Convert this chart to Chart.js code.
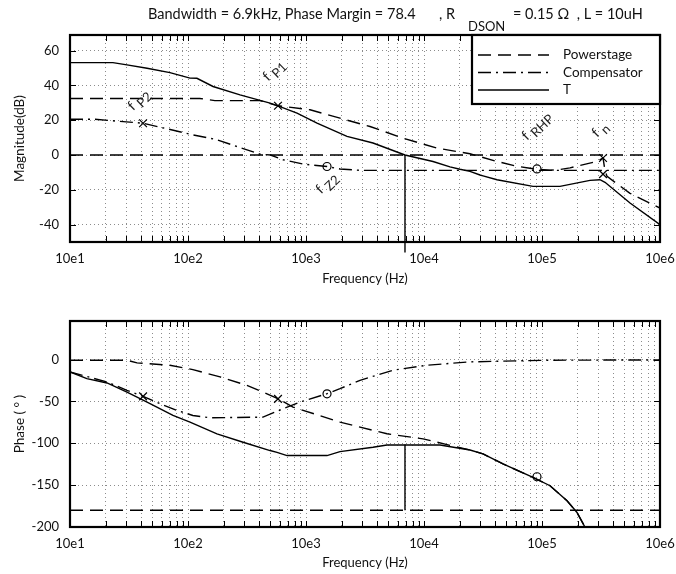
<!DOCTYPE html>
<html lang="en">
<head>
<meta charset="UTF-8" />
<title>Bode plot</title>
<script src="https://cdn.jsdelivr.net/npm/chart.js"></script>
<style>
  html, body { margin: 0; padding: 0; background: #fff; }
  body { width: 676px; height: 574px; position: relative; overflow: hidden; }
  canvas { position: absolute; left: 0; }
  #magChart { top: 0; }
  #phChart { top: 290px; }
</style>
</head>
<body>
<canvas id="magChart" width="676" height="290"></canvas>
<canvas id="phChart" width="676" height="284"></canvas>
<script>
// ---- data ----
const bwHz = 6900;
const phaseMargin = 78.4;

// magnitude (dB)
const psMagHz = [10, 126, 169, 408, 579, 1082, 1941, 3487, 6633, 12880, 24530, 41570, 61370, 79070, 90700, 117000, 134000, 172600, 292000, 329000, 342000, 356000, 557000, 1e6];
const psMagDb = [32.5, 32.5, 31.3, 31.3, 28.3, 26, 21.2, 16.4, 9.7, 4, 0.7, -3.7, -6.5, -7.6, -8.2, -8.7, -8.6, -7.4, -3.7, -1.7, -9, -12.3, -22, -30.5];

const cMagHz = [10, 16.3, 21.8, 41.6, 58, 110, 176, 260, 408, 500, 639, 943, 1507, 1941, 2868, 1e6];
const cMagDb = [20.6, 20.6, 19.8, 18.3, 16, 11.6, 8.8, 4.9, 0.5, 0, -2.7, -5.2, -6.6, -8, -8.8, -8.8];

const tMagHz = [10, 23.1, 30.4, 45, 70.3, 104, 119, 163, 276, 496, 579, 839, 1240, 2225, 3697, 6900, 11920, 16600, 20180, 24530, 29840, 31640, 41570, 83900, 142000, 255000, 310000, 342000, 557000, 1e6];
const tMagDb = [53.1, 53.1, 51.8, 49.9, 47.4, 44.2, 44.1, 39.4, 34.6, 29.8, 28.3, 24.1, 18.4, 10.7, 6.9, 0, -3.7, -6.8, -8.2, -9.4, -11.5, -12, -14.2, -18, -18, -14.6, -14.2, -15.7, -27.6, -40];

// phase (deg)
const psPhHz = [10, 30.4, 37, 70.3, 110, 187, 316, 432, 579, 776, 1941, 4856, 9817, 15670, 24530, 31640, 46700, 83900, 117000, 163000, 198000, 231000];
const psPhDeg = [-0.8, -0.8, -4, -6.8, -12, -20.8, -30.8, -38.8, -46.8, -56.8, -74.8, -88.7, -94.7, -101.6, -108, -112.7, -124.7, -140.7, -150.7, -168.7, -182.7, -200];

const cPhHz = [10, 20.6, 30.4, 41.6, 58, 80.7, 110, 154, 432, 639, 889, 1507, 1941, 2868, 5460, 10600, 24530, 117000, 1e6];
const cPhDeg = [-14.8, -26.8, -36.8, -44, -52.8, -60.8, -66.8, -69.6, -68.8, -58.8, -50.8, -40.8, -34.8, -24.8, -12.8, -6.8, -2.8, -0.8, -0.5];

const tPhHz = [10, 13.9, 20.6, 30.4, 45, 74.6, 104, 176, 293, 496, 568, 691, 1507, 1941, 3697, 4856, 13670, 24530, 31640, 46700, 83900, 117000, 163000, 198000, 231000];
const tPhDeg = [-14.8, -22.8, -28, -38.8, -50.8, -66.8, -74.8, -88.7, -98.8, -108.7, -110.8, -114.7, -114.7, -110, -104.8, -102, -102, -108, -112.7, -124.7, -140.7, -150.7, -168.7, -182.7, -200];

// poles (x) and zeros (o)
const magXHz = [41.6, 579, 329000, 329000];
const magXDb = [18.3, 28.3, -1.7, -11];
const magOHz = [1507, 90700];
const magODb = [-6.6, -8];
const phXHz = [41.6, 579];
const phXDeg = [-44, -47];
const phOHz = [1507, 90700];
const phODeg = [-41, -140];

const magTicks = [-40, -20, 0, 20, 40, 60];
const phTicks = [-200, -150, -100, -50, 0];

// ---- helpers ----
const pts = (xs, ys) => xs.map((v, i) => ({ x: v, y: ys[i] }));
const FONT = 'Lato, "Open Sans", sans-serif';
const DASH = [13, 7];
const DASHDOT = [13, 5, 2, 5];

function logTicks(scale) {
  const t = [];
  for (let e = 1; e < 6; e++) for (let m = 1; m < 10; m++) t.push({ value: m * Math.pow(10, e) });
  t.push({ value: 1e6 });
  scale.ticks = t;
}
function decadeLabel(v) {
  const e = Math.log10(v);
  return Math.abs(e - Math.round(e)) < 1e-6 ? '10e' + Math.round(e) : '';
}

function line(label, data, dash, extra) {
  return Object.assign({
    label, data, borderColor: '#000', borderWidth: 1.4, borderDash: dash,
    pointRadius: 0, fill: false, tension: 0
  }, extra || {});
}
function marks(data, style) {
  return {
    data, showLine: false, borderColor: '#000', backgroundColor: 'rgba(0,0,0,0)',
    borderWidth: 1.2, pointStyle: style, pointRadius: style === 'circle' ? 4 : 5.5
  };
}

function axes(yMin, yMax, yTicks, yTitle, xHeight) {
  return {
    x: {
      type: 'logarithmic', min: 10, max: 1e6,
      afterBuildTicks: logTicks,
      grid: { color: '#8c8c8c', lineWidth: 1, drawTicks: false },
      border: { display: false, dash: [1, 3] },
      ticks: { autoSkip: false, maxRotation: 0, padding: 9, color: '#111', font: { family: FONT, size: 13 }, callback: decadeLabel },
      title: { display: true, text: 'Frequency (Hz)', color: '#111', font: { family: FONT, size: 13 }, padding: { top: 0, bottom: 3 } },
      afterFit: s => { s.height = xHeight; s.paddingLeft = 0; s.paddingRight = 0; }
    },
    y: {
      min: yMin, max: yMax,
      afterBuildTicks: s => { s.ticks = yTicks.map(v => ({ value: v })); },
      grid: { color: '#8c8c8c', lineWidth: 1, drawTicks: false },
      border: { display: false, dash: [1, 3] },
      ticks: { padding: 11, color: '#111', font: { family: FONT, size: 13 } },
      title: { display: true, text: yTitle, color: '#111', font: { family: FONT, size: 13.5 }, padding: { top: 12, bottom: 0 } },
      afterFit: s => { s.width = 70; s.paddingTop = 0; s.paddingBottom = 0; }
    }
  };
}

const bodePlugin = {
  id: 'bode',
  afterDraw(chart, args, opts) {
    const { ctx, chartArea: a, scales: { x, y } } = chart;
    ctx.save();
    // inward tick marks
    ctx.strokeStyle = '#000';
    ctx.lineWidth = 1;
    ctx.beginPath();
    x.ticks.forEach(t => {
      const px = Math.round(x.getPixelForValue(t.value)) + 0.5;
      ctx.moveTo(px, a.top); ctx.lineTo(px, a.top + 6);
      ctx.moveTo(px, a.bottom); ctx.lineTo(px, a.bottom - 6);
    });
    y.ticks.forEach(t => {
      const py = Math.round(y.getPixelForValue(t.value)) + 0.5;
      ctx.moveTo(a.left, py); ctx.lineTo(a.left + 6, py);
      ctx.moveTo(a.right, py); ctx.lineTo(a.right - 6, py);
    });
    ctx.stroke();
    ctx.lineWidth = 2.2;
    ctx.strokeRect(a.left, a.top, a.right - a.left, a.bottom - a.top);

    // f_xx labels
    ctx.fillStyle = '#222';
    ctx.textBaseline = 'alphabetic';
    ctx.textAlign = 'left';
    (opts.notes || []).forEach(n => {
      ctx.save();
      ctx.translate(x.getPixelForValue(n.hz) + n.dx, y.getPixelForValue(n.val) + n.dy);
      ctx.rotate(-44 * Math.PI / 180);
      ctx.font = '14px ' + FONT;
      ctx.fillText('f', 0, 0);
      const w = ctx.measureText('f ').width;
      ctx.font = '13px ' + FONT;
      ctx.fillText(n.sub, w, 4);
      ctx.restore();
    });

    // legend box
    if (opts.legend) {
      const L = opts.legend;
      ctx.fillStyle = '#fff';
      ctx.fillRect(L.left, a.top, a.right - L.left, L.bottom - a.top);
      ctx.lineWidth = 2.2;
      ctx.strokeRect(L.left, a.top, a.right - L.left, L.bottom - a.top);
      ctx.font = '13.5px ' + FONT;
      ctx.fillStyle = '#111';
      ctx.textBaseline = 'middle';
      chart.data.datasets.filter(d => d.inLegend).forEach((d, i) => {
        const yy = L.firstRow + i * L.rowGap;
        ctx.save();
        ctx.lineWidth = 1.4;
        ctx.setLineDash(d.borderDash || []);
        ctx.beginPath();
        ctx.moveTo(L.left + 6, yy); ctx.lineTo(L.left + 77, yy);
        ctx.stroke();
        ctx.restore();
        ctx.fillText(d.label, L.left + 91, yy);
      });
    }

    // title with subscript
    if (opts.title) {
      ctx.fillStyle = '#111';
      ctx.textBaseline = 'alphabetic';
      ctx.font = '14.5px ' + FONT;
      ctx.fillText('Bandwidth = ' + (bwHz / 1000) + 'kHz, Phase Margin = ' + phaseMargin, 148, 19);
      ctx.fillText(', R', 439, 19);
      ctx.fillText('= 0.15 \u03A9  , L = 10uH', 513, 19);
      ctx.font = '13px ' + FONT;
      ctx.fillText('DSON', 468, 31);
    }
    ctx.restore();
  }
};

// ---- magnitude chart ----
new Chart(document.getElementById('magChart'), {
  type: 'line',
  data: {
    datasets: [
      line('zero', [{ x: 10, y: 0 }, { x: 1e6, y: 0 }], DASH),
      line('bw', [{ x: bwHz, y: 0 }, { x: bwHz, y: -56 }], [], { clip: { left: 0, top: 0, right: 0, bottom: false } }),
      line('Powerstage', pts(psMagHz, psMagDb), DASH, { inLegend: true }),
      line('Compensator', pts(cMagHz, cMagDb), DASHDOT, { inLegend: true }),
      line('T', pts(tMagHz, tMagDb), [], { inLegend: true }),
      marks(pts(magXHz, magXDb), 'crossRot'),
      marks(pts(magOHz, magODb), 'circle')
    ]
  },
  options: {
    responsive: false, animation: false,
    layout: { padding: { left: 0, right: 16, top: 35, bottom: 0 } },
    scales: axes(-50, 69, magTicks, 'Magnitude(dB)', 48),
    plugins: {
      legend: { display: false }, tooltip: { enabled: false },
      bode: {
        title: true,
        legend: { left: 472, bottom: 104, firstRow: 55, rowGap: 17.5 },
        notes: [
          { sub: 'P2', hz: magXHz[0], val: magXDb[0], dx: -10, dy: -12 },
          { sub: 'P1', hz: magXHz[1], val: magXDb[1], dx: -10, dy: -24 },
          { sub: 'Z2', hz: magOHz[0], val: magODb[0], dx: -6, dy: 28 },
          { sub: 'RHP', hz: magOHz[1], val: magODb[1], dx: -10, dy: -28 },
          { sub: 'n', hz: magXHz[2], val: magXDb[2], dx: -6, dy: -20 }
        ]
      }
    }
  },
  plugins: [bodePlugin]
});

// ---- phase chart ----
new Chart(document.getElementById('phChart'), {
  type: 'line',
  data: {
    datasets: [
      line('-180', [{ x: 10, y: -180 }, { x: 1e6, y: -180 }], DASH),
      line('pm', [{ x: bwHz, y: -180 + phaseMargin }, { x: bwHz, y: -180 }], []),
      line('Powerstage', pts(psPhHz, psPhDeg), DASH),
      line('Compensator', pts(cPhHz, cPhDeg), DASHDOT),
      line('T', pts(tPhHz, tPhDeg), []),
      marks(pts(phXHz, phXDeg), 'crossRot'),
      marks(pts(phOHz, phODeg), 'circle')
    ]
  },
  options: {
    responsive: false, animation: false,
    layout: { padding: { left: 0, right: 16, top: 31, bottom: 0 } },
    scales: axes(-200, 46, phTicks, 'Phase ( \u00B0 )', 47),
    plugins: { legend: { display: false }, tooltip: { enabled: false }, bode: {} }
  },
  plugins: [bodePlugin]
});
</script>
</body>
</html>
